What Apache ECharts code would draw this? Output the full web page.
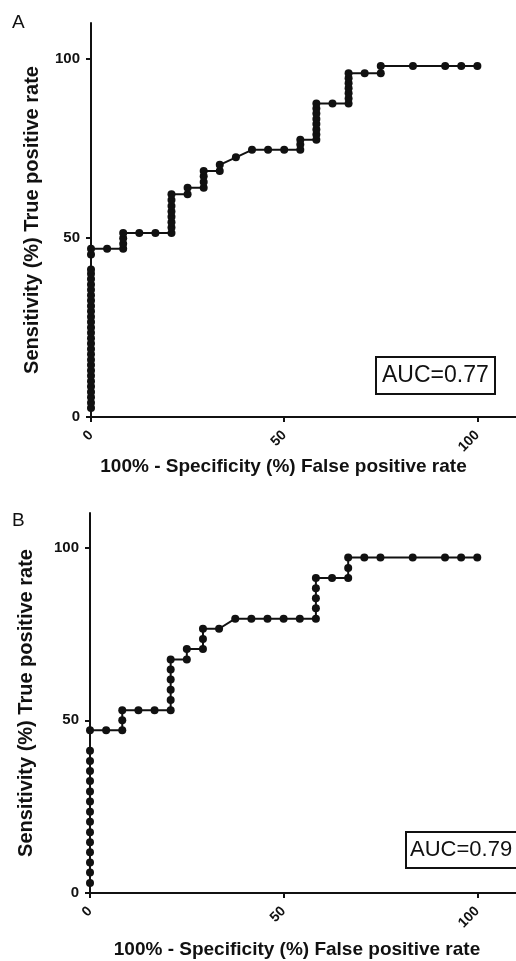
<!DOCTYPE html>
<html>
<head>
<meta charset="utf-8">
<script src="https://cdn.jsdelivr.net/npm/echarts@6/dist/echarts.min.js"></script>
<style>
html, body { margin: 0; padding: 0; background: #fff; }
#chart { width: 516px; height: 961px; }
</style>
</head>
<body>
<div id="chart"></div>
<script>
// panel A: ROC points (false positive rate %, true positive rate %)
var rocA_fpr = [0, 0, 0, 0, 0, 0, 0, 0, 0, 0, 0, 0, 0, 0, 0, 0, 0, 0, 0, 0, 0, 0, 0, 0, 0, 0, 0, 0, 0,
    4.17, 8.33, 8.33, 8.33, 8.33, 12.5, 16.67, 20.83, 20.83, 20.83, 20.83, 20.83, 20.83, 20.83, 20.83,
    25, 25, 29.17, 29.17, 29.17, 29.17, 33.33, 33.33, 37.5, 41.67, 45.83, 50, 54.17, 54.17, 54.17,
    58.33, 58.33, 58.33, 58.33, 58.33, 58.33, 58.33, 58.33, 62.5, 66.67, 66.67, 66.67, 66.67, 66.67, 66.67, 66.67,
    70.83, 75, 75, 83.33, 91.67, 95.83, 100];
var rocA_tpr = [2.5, 4.0, 5.5, 7.0, 8.5, 10.0, 11.5, 13.0, 14.5, 16.0, 17.5, 19.0, 20.5, 22.0, 23.5, 25.0,
    26.5, 28.0, 29.5, 31.0, 32.5, 34.0, 35.5, 37.0, 38.5, 40.0, 41.2, 45.4, 47.0,
    47.0, 47.0, 48.4, 49.9, 51.4, 51.4, 51.4, 51.4, 52.9, 54.4, 55.9, 57.4, 58.9, 60.6, 62.2,
    62.2, 64.0, 64.0, 65.6, 67.2, 68.7, 68.7, 70.4, 72.5, 74.6, 74.6, 74.6, 74.6, 76.1, 77.4,
    77.4, 78.9, 80.3, 81.8, 83.2, 84.7, 86.1, 87.5, 87.5, 87.5, 88.9, 90.4, 91.8, 93.2, 94.6, 96.0,
    96.0, 96.0, 98.0, 98.0, 98.0, 98.0, 98.0];

// panel B
var rocB_fpr = [0, 0, 0, 0, 0, 0, 0, 0, 0, 0, 0, 0, 0, 0, 0,
    4.17, 8.33, 8.33, 8.33, 12.5, 16.67, 20.83, 20.83, 20.83, 20.83, 20.83, 20.83,
    25, 25, 29.17, 29.17, 29.17, 33.33, 37.5, 41.67, 45.83, 50, 54.17, 58.33, 58.33, 58.33, 58.33, 58.33,
    62.5, 66.67, 66.67, 66.67, 70.83, 75, 83.33, 91.67, 95.83, 100];
var rocB_tpr = [2.9, 5.9, 8.8, 11.8, 14.7, 17.6, 20.6, 23.5, 26.5, 29.4, 32.4, 35.3, 38.2, 41.2, 47.1,
    47.1, 47.1, 50.0, 52.9, 52.9, 52.9, 52.9, 55.9, 58.8, 61.8, 64.7, 67.6,
    67.6, 70.6, 70.6, 73.5, 76.5, 76.5, 79.4, 79.4, 79.4, 79.4, 79.4, 79.4, 82.4, 85.3, 88.2, 91.2,
    91.2, 91.2, 94.1, 97.1, 97.1, 97.1, 97.1, 97.1, 97.1, 97.1];

var tickValues = [0, 50, 100];
var panelLetters = ['A', 'B'];
var aucTexts = ['AUC=0.77', 'AUC=0.79'];
var xTitle = '100% - Specificity (%) False positive rate';
var yTitle = 'Sensitivity (%) True positive rate';

var ink = '#111';
var font = 'Liberation Sans';

function zip(xs, ys) {
    return xs.map(function (x, i) { return [x, ys[i]]; });
}

function xAxisFor(idx, gap, shift) {
    return {
        type: 'value', gridIndex: idx, min: 0, max: 110, interval: 50,
        axisLine: { onZero: false, lineStyle: { color: ink, width: 2 } },
        axisTick: { customValues: tickValues, length: 5, lineStyle: { color: ink, width: 2 } },
        axisLabel: { customValues: tickValues, rotate: 45, margin: 16, fontSize: 14, fontWeight: 'bold', fontFamily: font, color: ink },
        splitLine: { show: false },
        name: xTitle, nameLocation: 'middle', nameGap: gap,
        nameTextStyle: { fontSize: 19, fontWeight: 'bold', fontFamily: font, color: ink, padding: [0, shift, 0, 0] }
    };
}

function yAxisFor(idx, gap) {
    return {
        type: 'value', gridIndex: idx, min: 0, max: 110, interval: 50,
        axisLine: { onZero: false, lineStyle: { color: ink, width: 2 } },
        axisTick: { customValues: tickValues, length: 5, lineStyle: { color: ink, width: 2 } },
        axisLabel: { customValues: tickValues, margin: 11, fontSize: 15, fontWeight: 'bold', fontFamily: font, color: ink },
        splitLine: { show: false },
        name: yTitle, nameLocation: 'middle', nameGap: gap,
        nameTextStyle: { fontSize: 20, fontWeight: 'bold', fontFamily: font, color: ink }
    };
}

function rocSeries(idx, data) {
    return {
        type: 'line', xAxisIndex: idx, yAxisIndex: idx, data: data,
        clip: false, symbol: 'circle', symbolSize: 8,
        lineStyle: { color: ink, width: 2 },
        itemStyle: { color: ink }
    };
}

var chart = echarts.init(document.getElementById('chart'));
chart.setOption({
    animation: false,
    backgroundColor: '#fff',
    grid: [
        { left: 91, top: 23, width: 425, height: 394 },
        { left: 90, top: 513, width: 433, height: 380 }
    ],
    xAxis: [xAxisFor(0, 37, 40), xAxisFor(1, 47, 12)],
    yAxis: [yAxisFor(0, 49), yAxisFor(1, 54)],
    title: [
        { text: panelLetters[0], left: 12, top: 13, padding: 0, textStyle: { fontSize: 19, fontWeight: 'normal', fontFamily: font, color: ink } },
        { text: panelLetters[1], left: 12, top: 511, padding: 0, textStyle: { fontSize: 19, fontWeight: 'normal', fontFamily: font, color: ink } },
        { text: aucTexts[0], left: 376, top: 357, padding: [7, 6, 7, 6], borderColor: ink, borderWidth: 2,
          textStyle: { fontSize: 23, fontWeight: 'normal', fontFamily: font, color: ink } },
        { text: aucTexts[1], left: 406, top: 832, padding: [7, 6, 7, 4], borderColor: ink, borderWidth: 2,
          textStyle: { fontSize: 22, fontWeight: 'normal', fontFamily: font, color: ink } }
    ],
    series: [
        rocSeries(0, zip(rocA_fpr, rocA_tpr)),
        rocSeries(1, zip(rocB_fpr, rocB_tpr))
    ]
});
</script>
</body>
</html>
